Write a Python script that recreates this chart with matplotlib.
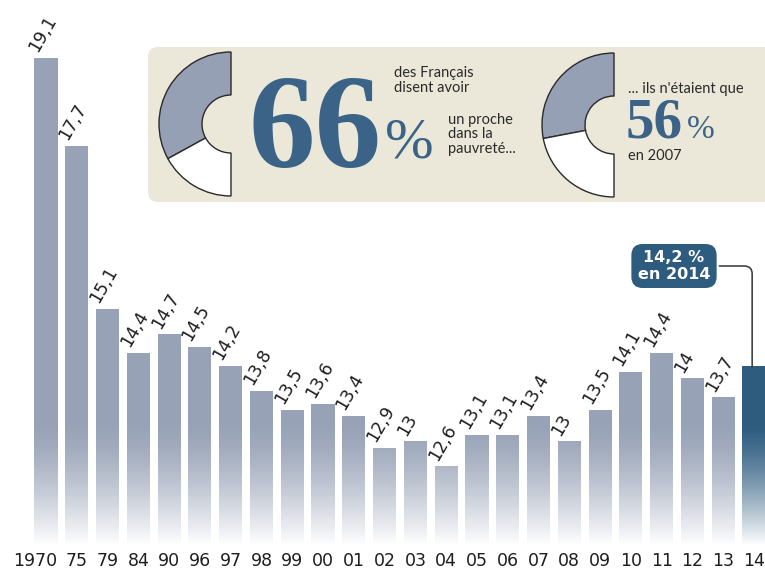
import numpy as np
import matplotlib
matplotlib.use("Agg")
import matplotlib.pyplot as plt
from matplotlib.patches import Wedge, FancyBboxPatch
from matplotlib.transforms import ScaledTranslation

# data
years = ["1970", "75", "79", "84", "90", "96", "97", "98", "99", "00", "01", "02",
         "03", "04", "05", "06", "07", "08", "09", "10", "11", "12", "13", "14"]
rates = [19.1, 17.7, 15.1, 14.4, 14.7, 14.5, 14.2, 13.8, 13.5, 13.6, 13.4, 12.9,
         13.0, 12.6, 13.1, 13.1, 13.4, 13.0, 13.5, 14.1, 14.4, 14.0, 13.7, 14.2]
rate_labels = ["19,1", "17,7", "15,1", "14,4", "14,7", "14,5", "14,2", "13,8", "13,5",
               "13,6", "13,4", "12,9", "13", "12,6", "13,1", "13,1", "13,4", "13",
               "13,5", "14,1", "14,4", "14", "13,7", "14,2 %\nen 2014"]
proche_pct = [66, 56]          # "have a relative in poverty": now / 2007

BAR = "#97a2b6"
DARK = "#2d5c7f"
BIGNUM = "#3a6387"

fig = plt.figure(figsize=(7.65, 5.78), dpi=100)
ax = fig.add_axes([0, 33 / 578, 1, 545 / 578])

ymin, ymax = 11.35, 20.02
x = np.arange(len(rates))
colors = [BAR] * (len(rates) - 1) + [DARK]
ax.bar(x, np.array(rates) - ymin, bottom=ymin, width=0.75, color=colors, zorder=2)

# white fade towards the bottom of the bars
n = 200
t = np.linspace(1, 0, n)
grad = np.ones((n, 1, 4))
grad[:, 0, 3] = t ** 1.4
ax.imshow(grad, extent=(-1.494, 23.357, ymin, 13.3), origin="lower",
          aspect="auto", zorder=3)
ax.set_xlim(-1.494, 23.357)
ax.set_ylim(ymin, ymax)

for i, (v, lab) in enumerate(zip(rates[:-1], rate_labels[:-1])):
    ax.annotate(lab, xy=(i, v), xytext=(-4, 2), textcoords="offset points",
                rotation=60, rotation_mode="anchor", ha="left", va="bottom",
                fontsize=12.5, color="#1e1e1e", zorder=5)

# callout for the last year
ax.annotate(rate_labels[-1], xy=(x[-1] - 0.06, rates[-1] - 0.08),
            xytext=(674, 312), textcoords="figure pixels",
            ha="center", va="center", fontsize=11.5, fontweight="bold",
            color="white", linespacing=1.1, zorder=6,
            bbox=dict(boxstyle="round,pad=0.4,rounding_size=0.7", fc=DARK, ec="none"),
            arrowprops=dict(arrowstyle="-", color="#444444", lw=1.2,
                            connectionstyle="angle,angleA=0,angleB=90,rad=8"))

ax.set_xticks(x)
ax.set_xticklabels(years, fontsize=12.5, color="#1e1e1e")
ax.tick_params(axis="x", length=0, pad=5)
first = ax.get_xticklabels()[0]
first.set_transform(first.get_transform()
                    + ScaledTranslation(-0.11, 0, fig.dpi_scale_trans))
ax.set_yticks([])
for s in ax.spines.values():
    s.set_visible(False)

# inset panel, pixel coordinates (y measured from top of image)
ov = fig.add_axes([0, 0, 1, 1], zorder=10)
ov.set_xlim(0, 765)
ov.set_ylim(0, 578)
ov.axis("off")
H = 578

ov.add_patch(FancyBboxPatch((148, H - 202), 640, 155,
                            boxstyle="round,pad=0,rounding_size=10",
                            fc="#ebe8d9", ec="none"))


def half_donut(cx, cy, pct):
    split = 90 + pct / 100 * 180
    ov.add_patch(Wedge((cx, H - cy), 72, 90, split, width=43,
                       fc="#95a0b5", ec="#2a2a2a", lw=1.0))
    ov.add_patch(Wedge((cx, H - cy), 72, split, 270, width=43,
                       fc="white", ec="#2a2a2a", lw=1.0))


half_donut(231, 124, proche_pct[0])
half_donut(614, 125, proche_pct[1])

serif = "Liberation Serif"
ov.text(249, H - 167, f"{proche_pct[0]}", family=serif, fontweight="bold",
        fontsize=96, color=BIGNUM, va="baseline", ha="left")
ov.text(385, H - 158, "%", family=serif, fontsize=42, color=BIGNUM,
        va="baseline", ha="left")
ov.text(394, H - 92, "des Français\ndisent avoir", family="Lato", fontsize=10.5,
        color="#2a2a2a", va="baseline", ha="left", linespacing=1.05)
ov.text(448, H - 153, "un proche\ndans la\npauvreté...", family="Lato", fontsize=10.5,
        color="#2a2a2a", va="baseline", ha="left", linespacing=1.05)

ov.text(628, H - 93, "... ils n'étaient que", family="Lato", fontsize=10.5,
        color="#2a2a2a", va="baseline", ha="left")
ov.text(626, H - 138, f"{proche_pct[1]}", family=serif, fontweight="bold",
        fontsize=41, color=BIGNUM, va="baseline", ha="left")
ov.text(687, H - 138, "%", family=serif, fontsize=24, color=BIGNUM,
        va="baseline", ha="left")
ov.text(628, H - 160, "en 2007", family="Lato", fontsize=10.5,
        color="#2a2a2a", va="baseline", ha="left")

fig.savefig("out.png", dpi=100)
